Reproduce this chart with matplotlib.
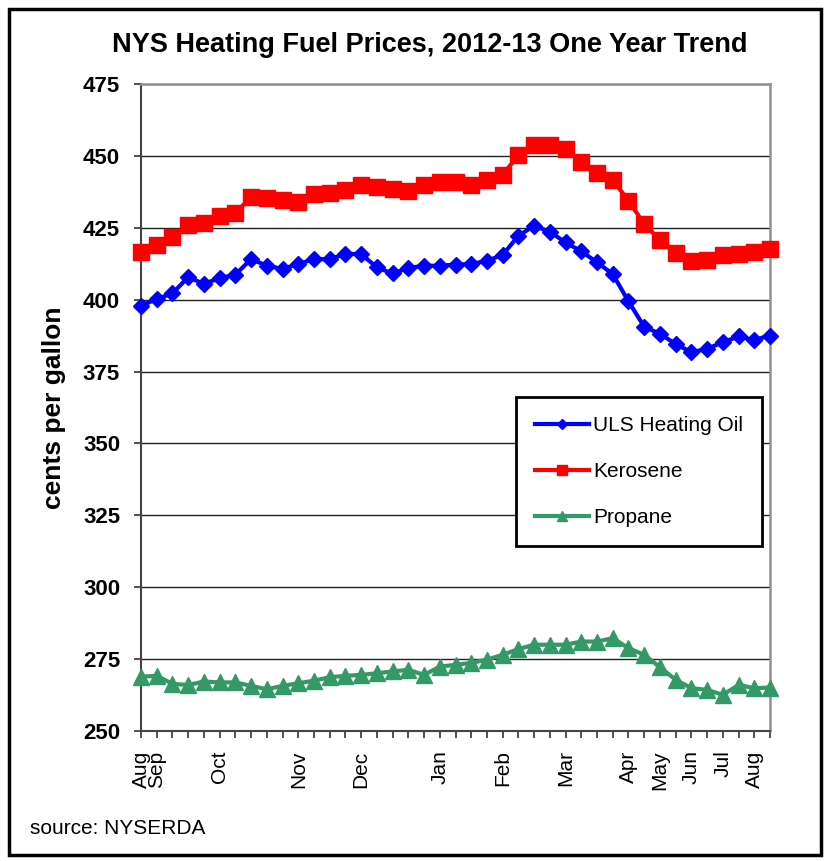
import matplotlib
matplotlib.use('Agg')
import matplotlib.pyplot as plt
from matplotlib.patches import Rectangle
import numpy as np

plt.rcParams['font.family'] = ['Liberation Sans', 'DejaVu Sans']

# one label per week, empty where the reference shows none
week_labels = ['Aug', 'Sep', '', '', '', 'Oct', '', '', '', '', 'Nov', '', '', '',
               'Dec', '', '', '', '', 'Jan', '', '', '', 'Feb', '', '', '', 'Mar',
               '', '', '', 'Apr', '', 'May', '', 'Jun', '', 'Jul', '', 'Aug', '']

heating_oil = [397.9, 400.2, 402.2, 407.8, 405.5, 407.5, 408.7, 414.1, 411.8, 410.7,
               412.4, 414.1, 414.1, 415.9, 415.9, 411.2, 409.1, 411.0, 411.8, 411.8,
               412.2, 412.4, 413.5, 415.6, 422.2, 425.7, 423.6, 419.9, 416.8, 413.0,
               408.9, 399.4, 390.6, 388.1, 384.6, 381.7, 382.9, 385.2, 387.2, 386.0,
               387.5]
kerosene = [416.7, 419.0, 421.9, 425.9, 426.7, 429.0, 430.0, 435.8, 435.2, 434.6,
            434.0, 436.7, 437.2, 438.0, 439.8, 439.2, 438.4, 437.9, 440.0, 441.0,
            441.0, 439.8, 441.5, 443.5, 450.2, 453.7, 453.7, 452.3, 447.9, 444.1,
            441.6, 434.4, 426.3, 420.7, 416.1, 413.5, 413.8, 415.5, 416.0, 416.7,
            417.6]
propane = [268.9, 269.2, 266.4, 266.0, 267.2, 266.9, 266.9, 265.7, 264.5, 265.7,
           266.6, 267.5, 268.7, 269.2, 269.5, 270.1, 270.7, 271.3, 269.5, 272.4,
           273.0, 273.7, 274.8, 276.5, 278.5, 280.0, 280.0, 280.0, 281.1, 281.1,
           282.3, 278.8, 276.5, 272.2, 267.8, 264.9, 264.3, 262.6, 266.0, 264.9,
           265.1]

x = np.arange(len(week_labels))

fig = plt.figure(figsize=(8.25, 8.61), dpi=100)
ax = fig.add_axes([141 / 825, 1 - 731 / 861, 629 / 825, 647 / 861])

ax.plot(x, heating_oil, color='#0000ff', lw=3, marker='D', ms=8, clip_on=False,
        zorder=3, label='ULS Heating Oil')
ax.plot(x, kerosene, color='#ff0000', lw=3, marker='s', ms=11, clip_on=False,
        zorder=3, label='Kerosene')
ax.plot(x, propane, color='#339966', lw=3, marker='^', ms=11, clip_on=False,
        zorder=3, label='Propane')

ax.set_xlim(0, len(x) - 1)
ax.set_ylim(250, 475)
ax.set_yticks(np.arange(250, 476, 25))
ax.yaxis.grid(True, color='#222222', lw=1)
ax.set_axisbelow(True)
ax.set_xticks(x)
ax.set_xticklabels(week_labels, rotation=90, fontsize=15)
ax.tick_params(axis='x', length=5, width=1.2, pad=9, color='#333333')
ax.tick_params(axis='y', length=5, width=1.2, pad=10, labelsize=16, color='#333333')
for lbl in ax.get_yticklabels():
    lbl.set_fontweight('bold')

for side in ['left', 'bottom']:
    ax.spines[side].set_color('#444444')
    ax.spines[side].set_linewidth(1.5)
for side in ['top', 'right']:
    ax.spines[side].set_color('#909090')
    ax.spines[side].set_linewidth(1.8)

ax.set_ylabel('cents per gallon', fontsize=19, fontweight='bold', labelpad=12)

leg = ax.legend(loc='upper left', bbox_to_anchor=(0.58, 0.532), fontsize=15,
                frameon=True, fancybox=False, edgecolor='black', framealpha=1,
                handlelength=2.6, handletextpad=0.2, labelspacing=1.3,
                borderpad=0.9, markerscale=0.7)
leg.get_frame().set_linewidth(2)
leg.set_zorder(5)

fig.text(0.521, 0.948, 'NYS Heating Fuel Prices, 2012-13 One Year Trend',
         ha='center', va='center', fontsize=19.5, fontweight='bold')
fig.text(30 / 825, 1 - 828 / 861, 'source: NYSERDA', ha='left', va='center', fontsize=15)

fig.patches.append(Rectangle((9 / 825, 1 - 855 / 861), 812 / 825, 846 / 861,
                             transform=fig.transFigure, fill=False,
                             edgecolor='black', lw=2.5))

fig.savefig('out.png', dpi=100)
